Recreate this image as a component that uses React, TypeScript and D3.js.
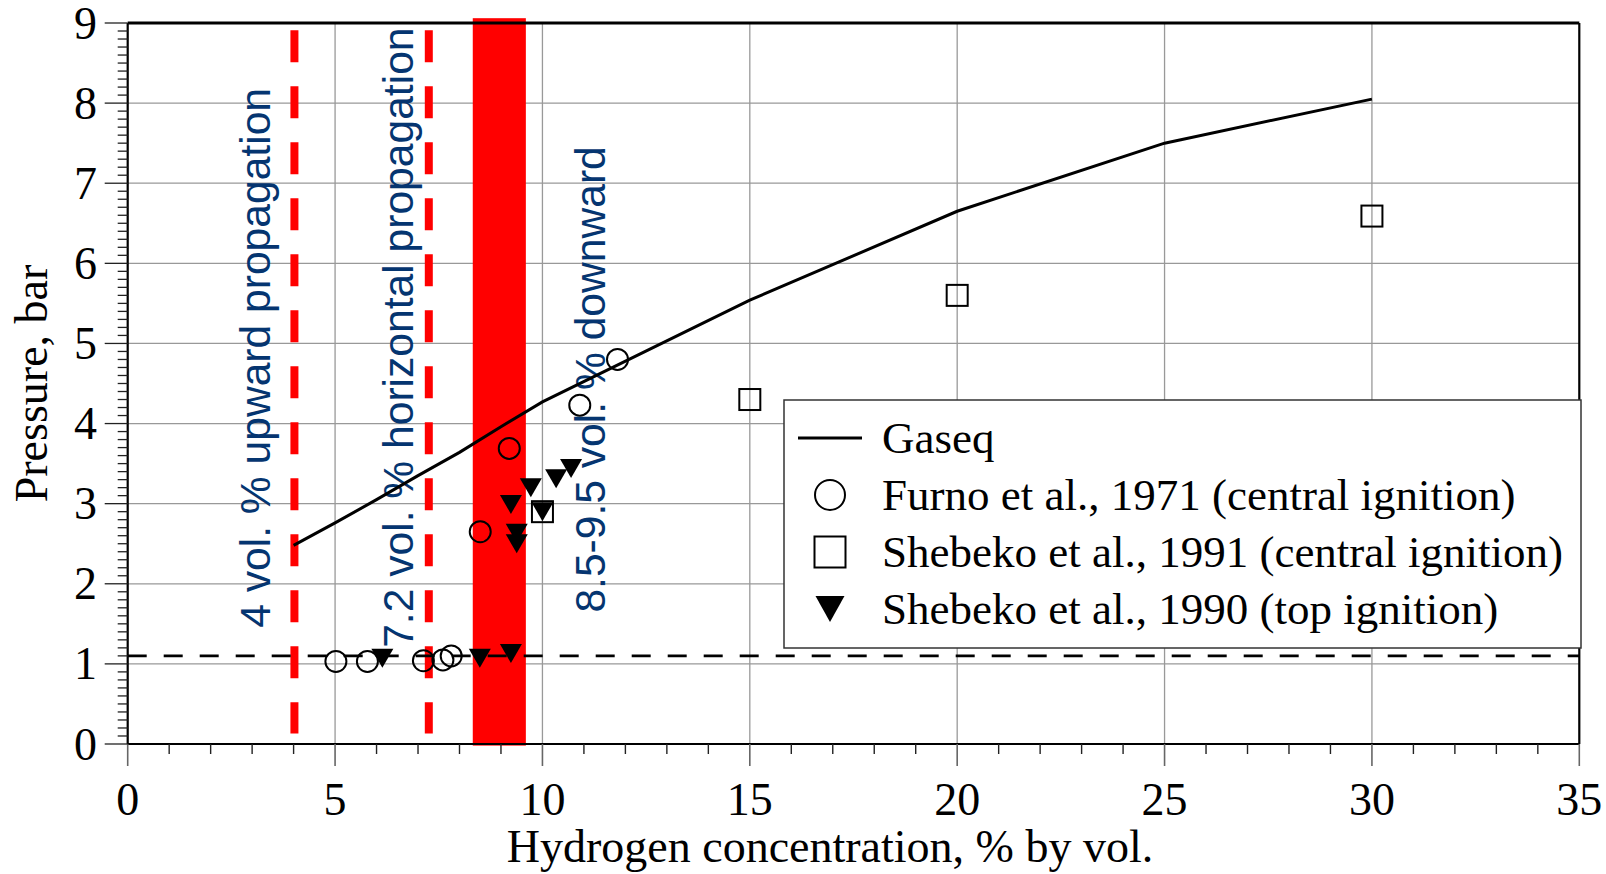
import React from "react";
import * as d3 from "d3";

const xTicks = [0, 5, 10, 15, 20, 25, 30, 35];
const yTicks = [0, 1, 2, 3, 4, 5, 6, 7, 8, 9];

const gaseqX = [4, 5, 6, 7, 8, 9, 10, 15, 20, 25, 30];
const gaseqP = [2.48, 2.76, 3.05, 3.35, 3.64, 3.96, 4.27, 5.54, 6.65, 7.5, 8.05];

const furnoX = [5.02, 5.78, 7.13, 7.6, 7.8, 8.5, 9.2, 10.9, 11.81];
const furnoP = [1.03, 1.03, 1.04, 1.05, 1.1, 2.65, 3.69, 4.23, 4.8];

const sheb91X = [10.0, 15.0, 20.0, 30.0];
const sheb91P = [2.9, 4.3, 5.6, 6.59];

const sheb90X = [6.14, 8.49, 9.24, 9.24, 9.38, 9.38, 9.72, 10.0, 10.33, 10.69];
const sheb90P = [1.07, 1.07, 1.13, 2.99, 2.63, 2.5, 3.2, 2.9, 3.31, 3.44];

const refPressure = 1.1;
const bandRange = [8.32, 9.6];
const limitLines = [4.02, 7.26];

const annotations = [
  { text: "4 vol. % upward propagation", x: 3.43, p: 1.45 },
  { text: "7.2 vol. % horizontal propagation", x: 6.88, p: 1.2 },
  { text: "8.5-9.5 vol. % downward", x: 11.51, p: 1.64 },
];

const legendItems = [
  "Gaseq",
  "Furno et al., 1971 (central ignition)",
  "Shebeko et al., 1991 (central ignition)",
  "Shebeko et al., 1990 (top ignition)",
];

const W = 1606;
const H = 874;
const L = 127.7;
const R = 1579.3;
const T = 23;
const B = 744;

const serif = "'Liberation Serif', 'Times New Roman', serif";
const sans = "'Liberation Sans', Arial, sans-serif";
const blue = "#053570";

export default function App() {
  const x = d3.scaleLinear().domain([0, 35]).range([L, R]);
  const y = d3.scaleLinear().domain([0, 9]).range([B, T]);

  const line = d3
    .line<number>()
    .x((_, i) => x(gaseqX[i]))
    .y((d) => y(d));

  const xMinor = d3.range(0, 36, 1);
  const yMinor = d3.range(0, 90, 1).map((v) => v / 10);

  const tri = (cx: number, cy: number, w: number, h: number) =>
    `M${cx - w / 2},${cy - h / 2}L${cx + w / 2},${cy - h / 2}L${cx},${cy + h / 2}Z`;

  const lgX = 784;
  const lgY = 400;
  const lgW = 797;
  const lgH = 248;
  const rowY = [438, 495, 552, 609];

  return (
    <svg
      width={W}
      height={H}
      style={{ position: "absolute", left: 0, top: 0, background: "#fff" }}
    >
      <rect x={0} y={0} width={W} height={H} fill="#fff" />
      {/* grid */}
      {xTicks.slice(1, -1).map((t) => (
        <line key={"gx" + t} x1={x(t)} x2={x(t)} y1={T} y2={B} stroke="#999" strokeWidth={1.3} />
      ))}
      {yTicks.slice(1, -1).map((t) => (
        <line key={"gy" + t} x1={L} x2={R} y1={y(t)} y2={y(t)} stroke="#999" strokeWidth={1.3} />
      ))}
      {/* red band */}
      <rect
        x={x(bandRange[0])}
        width={x(bandRange[1]) - x(bandRange[0])}
        y={y(9.06)}
        height={y(-0.02) - y(9.06)}
        fill="#ff0000"
      />
      {/* red dashed limits */}
      {limitLines.map((v) => (
        <line
          key={"ll" + v}
          x1={x(v)}
          x2={x(v)}
          y1={y(8.91)}
          y2={y(0.13)}
          stroke="#ff0000"
          strokeWidth={8}
          strokeDasharray="32 24"
        />
      ))}
      {/* annotations */}
      {annotations.map((a) => (
        <text
          key={a.text}
          transform={`translate(${x(a.x)},${y(a.p)}) rotate(-90)`}
          fontFamily={sans}
          fontSize={42.6}
          fill={blue}
        >
          {a.text}
        </text>
      ))}
      {/* reference dashed line */}
      <line
        x1={L}
        x2={R}
        y1={y(refPressure)}
        y2={y(refPressure)}
        stroke="#000"
        strokeWidth={2.6}
        strokeDasharray="19 17"
      />
      {/* Gaseq */}
      <path d={line(gaseqP) || ""} fill="none" stroke="#000" strokeWidth={3} />
      {/* circles */}
      {furnoX.map((v, i) => (
        <circle key={"c" + i} cx={x(v)} cy={y(furnoP[i])} r={10.5} fill="none" stroke="#000" strokeWidth={2} />
      ))}
      {/* squares */}
      {sheb91X.map((v, i) => (
        <rect
          key={"s" + i}
          x={x(v) - 10.5}
          y={y(sheb91P[i]) - 10.5}
          width={21}
          height={21}
          fill="none"
          stroke="#000"
          strokeWidth={2}
        />
      ))}
      {/* triangles */}
      {sheb90X.map((v, i) => (
        <path key={"t" + i} d={tri(x(v), y(sheb90P[i]), 22, 19)} fill="#000" />
      ))}
      {/* axes frame */}
      <line x1={L} x2={R} y1={T} y2={T} stroke="#000" strokeWidth={3} />
      <line x1={R} x2={R} y1={T} y2={B} stroke="#000" strokeWidth={2.2} />
      <line x1={L} x2={L} y1={T} y2={B} stroke="#000" strokeWidth={2.2} />
      <line x1={L} x2={R} y1={B} y2={B} stroke="#000" strokeWidth={2.2} />
      {/* x ticks */}
      {xMinor.map((t) => (
        <line
          key={"xm" + t}
          x1={x(t)}
          x2={x(t)}
          y1={B}
          y2={B + (t % 5 === 0 ? 22 : 10)}
          stroke={t % 5 === 0 ? "#666" : "#222"}
          strokeWidth={t % 5 === 0 ? 1.6 : 1.4}
        />
      ))}
      {/* y ticks */}
      {yMinor.map((t, i) => (
        <line
          key={"ym" + i}
          x1={L}
          x2={L - (i % 10 === 0 ? 23 : 10)}
          y1={y(t)}
          y2={y(t)}
          stroke="#222"
          strokeWidth={1.3}
        />
      ))}
      <line x1={L} x2={L - 23} y1={y(9)} y2={y(9)} stroke="#222" strokeWidth={1.3} />
      {/* tick labels */}
      {xTicks.map((t) => (
        <text key={"xl" + t} x={x(t)} y={B + 71} textAnchor="middle" fontFamily={serif} fontSize={46} fill="#000">
          {t}
        </text>
      ))}
      {yTicks.map((t) => (
        <text key={"yl" + t} x={97} y={y(t) + 15.5} textAnchor="end" fontFamily={serif} fontSize={46} fill="#000">
          {t}
        </text>
      ))}
      {/* axis titles */}
      <text x={830} y={862} textAnchor="middle" fontFamily={serif} fontSize={46} fill="#000">
        Hydrogen concentration, % by vol.
      </text>
      <text
        transform={`translate(47,${(T + B) / 2}) rotate(-90)`}
        textAnchor="middle"
        fontFamily={serif}
        fontSize={46}
        fill="#000"
      >
        Pressure, bar
      </text>
      {/* legend */}
      <rect x={lgX} y={lgY} width={lgW} height={lgH} fill="#fff" stroke="#333" strokeWidth={1.5} />
      <line x1={798} x2={862} y1={rowY[0]} y2={rowY[0]} stroke="#000" strokeWidth={3} />
      <circle cx={830} cy={rowY[1]} r={15} fill="none" stroke="#000" strokeWidth={2} />
      <rect x={830 - 15.5} y={rowY[2] - 15.5} width={31} height={31} fill="none" stroke="#000" strokeWidth={2} />
      <path d={tri(830, rowY[3], 29, 26)} fill="#000" />
      {legendItems.map((s, i) => (
        <text key={s} x={882} y={rowY[i] + 15} fontFamily={serif} fontSize={45} fill="#000">
          {s}
        </text>
      ))}
    </svg>
  );
}
